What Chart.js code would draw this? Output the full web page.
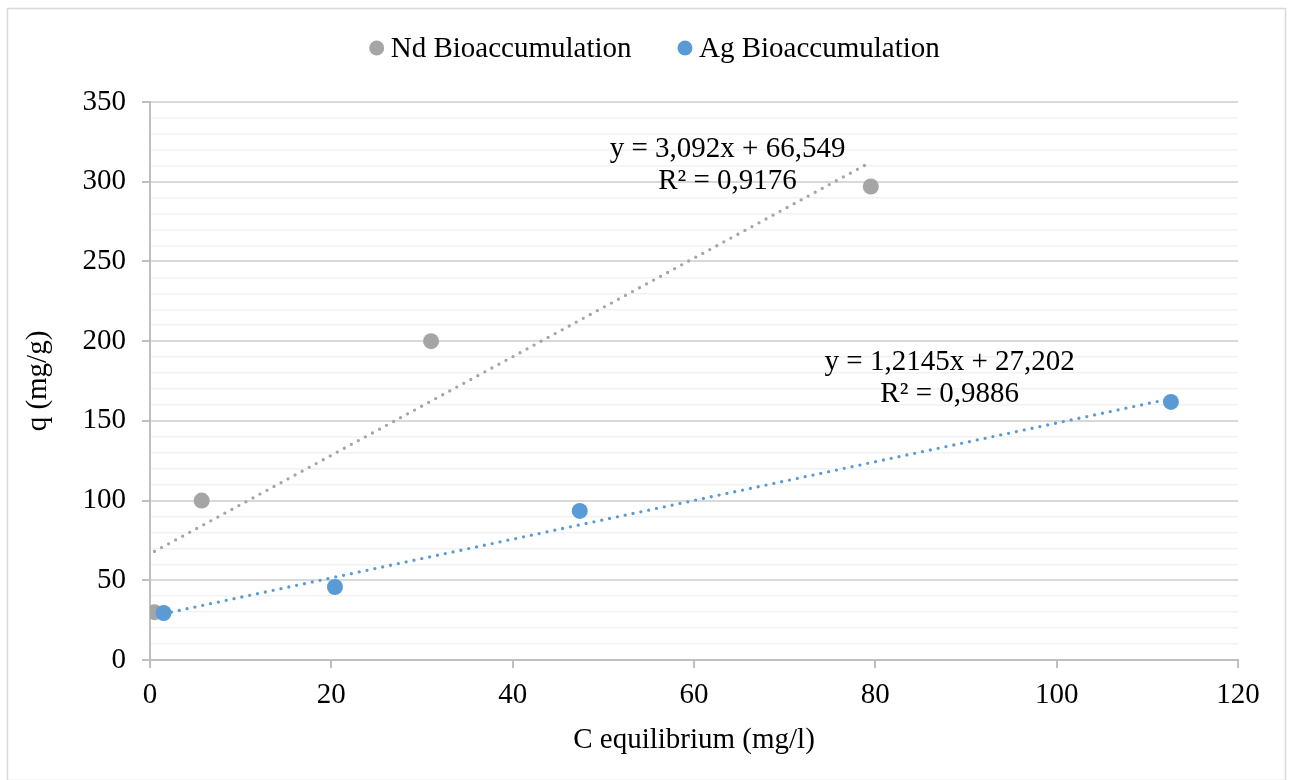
<!DOCTYPE html>
<html>
<head>
<meta charset="utf-8">
<script src="https://cdn.jsdelivr.net/npm/chart.js@4/dist/chart.umd.min.js"></script>
<style>
  html, body { margin: 0; padding: 0; background: #fff; }
  #wrap { width: 1293px; height: 780px; position: relative; }
</style>
</head>
<body>
<div id="wrap"><canvas id="c" width="1293" height="780"></canvas></div>
<script>
// Equilibrium concentration (mg/l) vs. uptake q (mg/g)
const seriesNames = ['Nd Bioaccumulation', 'Ag Bioaccumulation'];
const ndC = [0.5, 5.7, 31.0, 79.5];
const ndQ = [30, 100, 200, 297];
const agC = [1.5, 20.4, 47.4, 112.6];
const agQ = [29.5, 45.8, 93.5, 161.9];

// Linear fits (slope, intercept) and their printed labels
const ndFit = [3.092, 66.549];
const agFit = [1.2145, 27.202];
const ndFitText = ['y = 3,092x + 66,549', 'R² = 0,9176'];
const agFitText = ['y = 1,2145x + 27,202', 'R² = 0,9886'];
// where each fit label sits, in data units (x, q)
const ndLabelAt = [63.7, 320.0];
const agLabelAt = [88.2, 186.8];

const xTicks = [0, 20, 40, 60, 80, 100, 120];
const yTicks = [0, 50, 100, 150, 200, 250, 300, 350];

const FONT = "'Liberation Serif', 'Times New Roman', Times, serif";
const colNd = '#A5A5A5';
const colAg = '#5B9BD5';

const toPts = (xs, ys) => xs.map((x, i) => ({ x: x, y: ys[i] }));
const fitLine = (xs, f) => {
  const lo = Math.min(...xs), hi = Math.max(...xs);
  return [{ x: lo, y: f[0] * lo + f[1] }, { x: hi, y: f[0] * hi + f[1] }];
};

const trendStyle = (c) => ({
  showLine: true, borderColor: c, borderWidth: 3.3, borderDash: [0, 8],
  borderCapStyle: 'round', pointRadius: 0, pointHoverRadius: 0, fill: false, order: 2
});

const frame = {
  id: 'frame',
  beforeDraw(chart) {
    const ctx = chart.ctx;
    ctx.save();
    ctx.fillStyle = '#fff';
    ctx.fillRect(0, 0, chart.width, chart.height);
    ctx.strokeStyle = '#D9D9D9';
    ctx.lineWidth = 1.5;
    ctx.strokeRect(7.5, 8.5, chart.width - 15, chart.height - 8);
    ctx.restore();
  }
};

const legendDots = {
  id: 'legendDots',
  afterDraw(chart) {
    const ctx = chart.ctx;
    ctx.save();
    ctx.font = '29px ' + FONT;
    ctx.textBaseline = 'middle';
    ctx.textAlign = 'left';
    const cols = [colNd, colAg];
    const r = 7.5, gapDot = 6.5, gapItem = 46;
    const widths = seriesNames.map(n => 2 * r + gapDot + ctx.measureText(n).width);
    const total = widths[0] + gapItem + widths[1];
    let x = chart.width / 2 + 8 - total / 2;
    const y = 48;
    seriesNames.forEach((n, i) => {
      ctx.fillStyle = cols[i];
      ctx.beginPath();
      ctx.arc(x + r, y, r, 0, Math.PI * 2);
      ctx.fill();
      ctx.fillStyle = '#000';
      ctx.fillText(n, x + 2 * r + gapDot, y + 1);
      x += widths[i] + gapItem;
    });
    ctx.restore();
  }
};

const fitLabels = {
  id: 'fitLabels',
  afterDatasetsDraw(chart) {
    const ctx = chart.ctx, xs = chart.scales.x, ys = chart.scales.y;
    ctx.save();
    ctx.font = '29px ' + FONT;
    ctx.fillStyle = '#000';
    ctx.textAlign = 'center';
    ctx.textBaseline = 'middle';
    [[ndFitText, ndLabelAt], [agFitText, agLabelAt]].forEach(([lines, at]) => {
      const px = xs.getPixelForValue(at[0]);
      const py = ys.getPixelForValue(at[1]);
      lines.forEach((t, i) => ctx.fillText(t, px, py + i * 32));
    });
    ctx.restore();
  }
};

new Chart(document.getElementById('c'), {
  type: 'scatter',
  data: {
    datasets: [
      { label: seriesNames[0], data: toPts(ndC, ndQ), backgroundColor: colNd, borderColor: colNd,
        pointRadius: 8, pointBorderWidth: 0, order: 1 },
      { label: seriesNames[1], data: toPts(agC, agQ), backgroundColor: colAg, borderColor: colAg,
        pointRadius: 8, pointBorderWidth: 0, order: 0 },
      Object.assign({ label: 'Nd fit', data: fitLine(ndC, ndFit) }, trendStyle(colNd)),
      Object.assign({ label: 'Ag fit', data: fitLine(agC, agFit) }, trendStyle(colAg))
    ]
  },
  options: {
    responsive: false,
    animation: false,
    events: [],
    layout: { padding: { left: 0, right: 55, top: 102, bottom: 0 } },
    plugins: { legend: { display: false }, tooltip: { enabled: false } },
    scales: {
      x: {
        type: 'linear', min: xTicks[0], max: xTicks[xTicks.length - 1],
        afterBuildTicks: (s) => { s.ticks = xTicks.map(v => ({ value: v })); },
        afterFit: (s) => { s.height = 120; },
        ticks: { color: '#000', font: { family: FONT, size: 29 }, padding: 10, maxRotation: 0 },
        grid: { drawOnChartArea: false, drawTicks: true, tickLength: 8, color: '#BFBFBF', lineWidth: 2 },
        border: { display: true, color: '#BFBFBF', width: 2 },
        title: { display: true, text: 'C equilibrium (mg/l)', color: '#000',
                 font: { family: FONT, size: 29 }, padding: { top: 0, bottom: 22 } }
      },
      y: {
        type: 'linear', min: yTicks[0], max: yTicks[yTicks.length - 1],
        afterBuildTicks: (s) => {
          const t = [];
          for (let v = yTicks[0]; v <= yTicks[yTicks.length - 1]; v += 10) t.push({ value: v });
          s.ticks = t;
        },
        afterFit: (s) => { s.width = 150; },
        ticks: {
          autoSkip: false, color: '#000', font: { family: FONT, size: 29 }, padding: 16,
          callback: (v) => (yTicks.includes(v) ? String(v) : '')
        },
        grid: {
          drawTicks: true, tickLength: 8,
          color: (c) => (c.tick && c.tick.value % 50 === 0 ? '#D9D9D9' : '#F2F2F2'),
          lineWidth: (c) => (c.tick && c.tick.value % 50 === 0 ? 2 : 1.5),
          tickColor: (c) => (c.tick && c.tick.value % 50 === 0 ? '#BFBFBF' : 'rgba(0,0,0,0)')
        },
        border: { display: true, color: '#BFBFBF', width: 2 },
        title: { display: true, text: 'q (mg/g)', color: '#000',
                 font: { family: FONT, size: 29 }, padding: { top: 21, bottom: 0 } }
      }
    }
  },
  plugins: [frame, legendDots, fitLabels]
});
</script>
</body>
</html>
